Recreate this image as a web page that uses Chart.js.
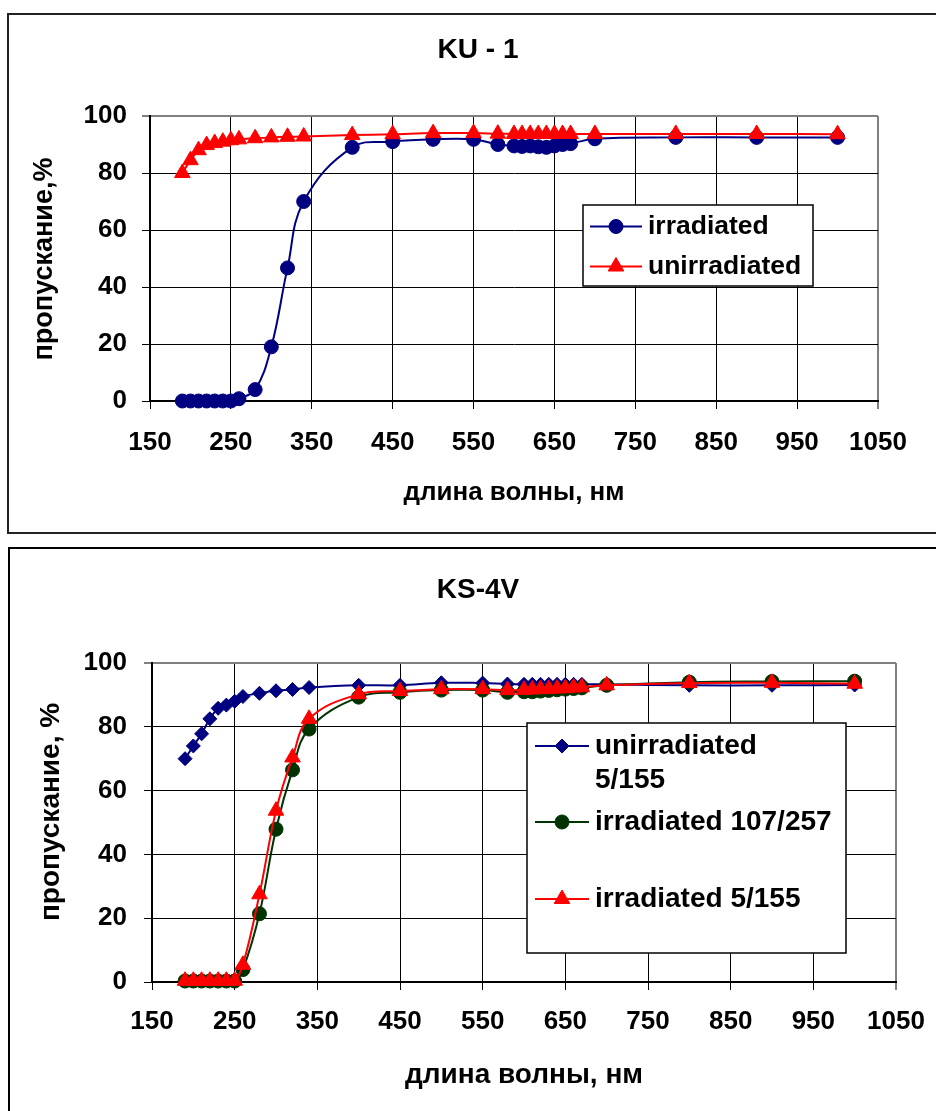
<!DOCTYPE html>
<html>
<head>
<meta charset="utf-8">
<script src="https://cdn.jsdelivr.net/npm/chart.js@4.4.1/dist/chart.umd.min.js"></script>
<style>
  body { margin: 0; background: #fff; width: 936px; height: 1111px; overflow: hidden; position: relative; }
  .frame { position: absolute; border: 2px solid #222; box-sizing: border-box; }
  #f1 { left: 7px; top: 13px; width: 940px; height: 521px; }
  #f2 { left: 8px; top: 547px; width: 940px; height: 580px; border-color: #000; }
  canvas { position: absolute; left: 0; }
  #c1 { top: 0; }
  #c2 { top: 540px; }
</style>
</head>
<body>
<div class="frame" id="f1"></div>
<div class="frame" id="f2"></div>
<canvas id="c1" width="936" height="540"></canvas>
<canvas id="c2" width="936" height="571"></canvas>
<script>
// длины волн (нм) - общие для всех серий
const lambda = [190, 200, 210, 220, 230, 240, 250, 260, 280, 300, 320, 340, 400, 450, 500, 550, 580,
                600, 610, 620, 630, 640, 650, 660, 670, 700, 800, 900, 1000];

// KU-1
const ku1Irradiated = [0, 0, 0, 0, 0, 0, 0, 0.8, 4, 19, 46.7, 70, 89, 91, 91.8, 91.8, 90,
                       89.5, 89.3, 89.5, 89.2, 89, 89.5, 90, 90.3, 92, 92.5, 92.5, 92.5];
const ku1Unirradiated = [80, 84.5, 88, 89.8, 90.5, 91, 91.5, 91.8, 92.2, 92.5, 92.7, 92.8, 93.3, 93.6, 94, 94, 93.8,
                         93.7, 93.7, 93.7, 93.7, 93.7, 93.7, 93.7, 93.7, 93.7, 93.7, 93.7, 93.6];

// KS-4V
const ks4vUnirr155 = [70, 74, 77.8, 82.5, 85.8, 86.8, 88, 89.5, 90.5, 91.3, 91.7, 92.3, 93, 93, 93.8, 93.7, 93.4,
                      93.3, 93.3, 93.3, 93.3, 93.3, 93.3, 93.3, 93.3, 93.3, 93, 93, 93.1];
const ks4vIrr257 = [0.3, 0.3, 0.3, 0.3, 0.3, 0.3, 0.3, 3.9, 21.4, 47.9, 66.5, 79.3, 89.3, 90.8, 91.5, 91.5, 90.8,
                    91, 91, 91.2, 91.4, 91.6, 91.8, 92, 92.2, 93, 94, 94.2, 94.3];
const ks4vIrr155 = [0.4, 0.4, 0.4, 0.4, 0.4, 0.4, 0.4, 5.4, 27.5, 53.7, 70.4, 82.5, 90.2, 91.2, 91.8, 91.8, 91.5,
                    91.6, 91.7, 91.8, 91.9, 92, 92.1, 92.3, 92.4, 93, 93.7, 93.8, 93.5];

// подписи осей
const xTicks = [150, 250, 350, 450, 550, 650, 750, 850, 950, 1050];
const yTicks = [0, 20, 40, 60, 80, 100];
const ku1Legend = [['irradiated'], ['unirradiated']];
const ks4vLegend = [['unirradiated', '5/155'], ['irradiated 107/257'], ['irradiated 5/155']];

const FONT = "'Liberation Sans', Arial, sans-serif";
const NAVY = '#000080', RED = '#ff0000', GREEN = '#003300';

function serie(label, values, color, style, radius, order) {
    return {
        label: label,
        data: lambda.map((x, i) => ({ x: x, y: values[i] })),
        borderColor: color,
        backgroundColor: color,
        pointBackgroundColor: color,
        pointBorderColor: color,
        pointBorderWidth: 1,
        pointStyle: style,
        pointRadius: radius,
        borderWidth: 2,
        showLine: true,
        tension: 0.4,
        clip: false,
        order: order
    };
}

// título, título del eje Y y leyenda dibujados a mano en el canvas
const textPlugin = {
    id: 'chartText',
    afterDraw(chart, args, o) {
        const ctx = chart.ctx;
        ctx.save();
        ctx.fillStyle = '#000';
        ctx.textAlign = 'center';
        ctx.textBaseline = 'middle';
        ctx.font = 'bold 28px ' + FONT;
        ctx.fillText(o.title, o.titleX, o.titleY);

        ctx.save();
        ctx.font = 'bold ' + o.yTitleSize + 'px ' + FONT;
        ctx.translate(o.yTitleX, o.yTitleY);
        ctx.rotate(-Math.PI / 2);
        ctx.fillText(o.yTitle, 0, 0);
        ctx.restore();

        const lg = o.legend;
        ctx.fillStyle = '#fff';
        ctx.fillRect(lg.x, lg.y, lg.w, lg.h);
        ctx.strokeStyle = '#000';
        ctx.lineWidth = 1.5;
        ctx.strokeRect(lg.x, lg.y, lg.w, lg.h);
        lg.rows.forEach((r, i) => {
            const ds = chart.data.datasets[i];
            ctx.strokeStyle = ds.borderColor;
            ctx.lineWidth = ds.borderWidth;
            ctx.beginPath();
            ctx.moveTo(lg.lineX0, r.y);
            ctx.lineTo(lg.lineX1, r.y);
            ctx.stroke();
            ctx.fillStyle = ds.pointBackgroundColor;
            ctx.strokeStyle = ds.pointBorderColor;
            ctx.lineWidth = 1;
            Chart.helpers.drawPoint(ctx, { pointStyle: ds.pointStyle, radius: ds.pointRadius, borderWidth: 1, rotation: 0 },
                (lg.lineX0 + lg.lineX1) / 2, r.y);
            ctx.fillStyle = '#000';
            ctx.textAlign = 'left';
            ctx.font = 'bold ' + lg.size + 'px ' + FONT;
            r.lines.forEach((t, k) => ctx.fillText(t, lg.textX, r.y + k * lg.lineStep));
        });
        ctx.restore();
    }
};

function makeChart(id, datasets, g) {
    const ctx = document.getElementById(id).getContext('2d');
    return new Chart(ctx, {
        type: 'scatter',
        data: { datasets: datasets },
        plugins: [textPlugin],
        options: {
            responsive: false,
            animation: false,
            devicePixelRatio: 1,
            layout: { padding: g.padding },
            plugins: {
                legend: { display: false },
                tooltip: { enabled: false },
                chartText: g.text
            },
            scales: {
                x: {
                    type: 'linear', min: 150, max: 1050,
                    afterBuildTicks: s => { s.ticks = xTicks.map(v => ({ value: v })); },
                    afterFit: s => { s.height = g.xH; s.paddingLeft = 0; s.paddingRight = 0; },
                    ticks: { font: { family: FONT, size: 26, weight: 'bold' }, color: '#000', padding: g.xPad,
                             maxRotation: 0, autoSkip: false, callback: v => String(v) },
                    grid: {
                        color: c => (c.tick && c.tick.value === 1050) ? '#808080' : '#000',
                        lineWidth: c => (c.tick && c.tick.value === 1050) ? 2 : 1,
                        tickLength: 8, tickColor: '#000', tickWidth: 1
                    },
                    border: { color: '#000', width: 2 },
                    title: { display: true, text: 'длина волны, нм', color: '#000', padding: 0,
                             font: { family: FONT, size: g.xTitleSize, weight: 'bold' } }
                },
                y: {
                    min: 0, max: 100,
                    afterBuildTicks: s => { s.ticks = yTicks.map(v => ({ value: v })); },
                    afterFit: s => { s.width = g.yW; s.paddingTop = 0; s.paddingBottom = 0; },
                    ticks: { font: { family: FONT, size: 26, weight: 'bold' }, color: '#000', padding: g.yPad,
                             callback: v => String(v) },
                    grid: {
                        color: c => (c.tick && c.tick.value === 100) ? '#808080' : '#000',
                        lineWidth: c => (c.tick && c.tick.value === 100) ? 2 : 1,
                        tickLength: 8, tickColor: '#000', tickWidth: 1
                    },
                    border: { color: '#000', width: 2 }
                }
            }
        }
    });
}

makeChart('c1', [
    serie('irradiated', ku1Irradiated, NAVY, 'circle', 7, 1),
    serie('unirradiated', ku1Unirradiated, RED, 'triangle', 9, 0)
], {
    padding: { left: 20, right: 58, top: 116, bottom: 32 },
    xH: 107, xPad: 18, yW: 130, yPad: 15, xTitleSize: 26,
    text: {
        title: 'KU - 1', titleX: 478, titleY: 50,
        yTitle: 'пропускание,%', yTitleX: 45, yTitleY: 259, yTitleSize: 27,
        legend: { x: 583, y: 205, w: 230, h: 81, lineX0: 590, lineX1: 642, textX: 648, lineStep: 34, size: 26.5,
                  rows: ku1Legend.map((l, i) => ({ lines: l, y: [226.5, 266.5][i] })) }
    }
});

makeChart('c2', [
    serie('unirradiated 5/155', ks4vUnirr155, NAVY, 'rectRot', 7, 2),
    serie('irradiated 107/257', ks4vIrr257, GREEN, 'circle', 7, 1),
    serie('irradiated 5/155', ks4vIrr155, RED, 'triangle', 9, 0)
], {
    padding: { left: 22, right: 40, top: 123, bottom: 19 },
    xH: 110, xPad: 16, yW: 130, yPad: 17, xTitleSize: 28,
    text: {
        title: 'KS-4V', titleX: 478, titleY: 50,
        yTitle: 'пропускание, %', yTitleX: 51, yTitleY: 272, yTitleSize: 28,
        legend: { x: 527, y: 183, w: 319, h: 230, lineX0: 535, lineX1: 589, textX: 595, lineStep: 34, size: 28,
                  rows: ks4vLegend.map((l, i) => ({ lines: l, y: [206, 282, 359][i] })) }
    }
});
</script>
</body>
</html>
